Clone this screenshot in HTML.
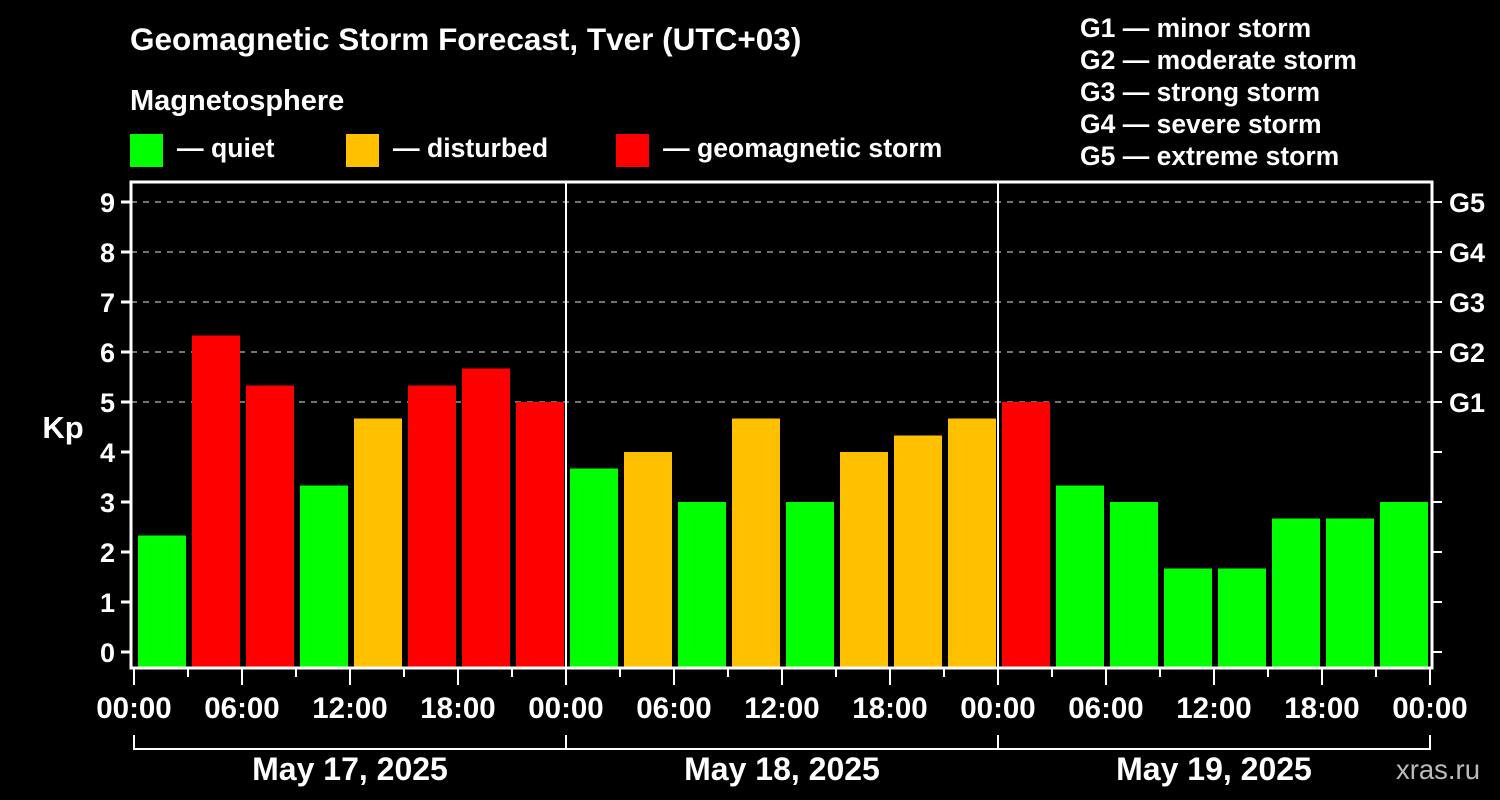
<!DOCTYPE html>
<html><head><meta charset="utf-8"><style>
body{margin:0;background:#000;}
svg{display:block;font-family:"Liberation Sans",Arial,sans-serif;font-weight:bold;}
</style></head><body>
<svg id="c" width="1500" height="800">
<rect width="1500" height="800" fill="#000"/>
<text x="130" y="50" fill="#fff" font-size="31.5">Geomagnetic Storm Forecast, Tver (UTC+03)</text>
<text x="130" y="110" fill="#fff" font-size="29">Magnetosphere</text>
<g><rect x="130" y="134" width="33" height="33" fill="#00ff00"/><text x="177" y="157" fill="#fff" font-size="26.6">— quiet</text></g>
<g><rect x="346" y="134" width="33" height="33" fill="#ffc000"/><text x="393" y="157" fill="#fff" font-size="26.6">— disturbed</text></g>
<g><rect x="616" y="134" width="33" height="33" fill="#ff0000"/><text x="663" y="157" fill="#fff" font-size="26.6">— geomagnetic storm</text></g>
<g fill="#fff" font-size="26.5">
<text x="1080" y="37">G1 — minor storm</text>
<text x="1080" y="69">G2 — moderate storm</text>
<text x="1080" y="101">G3 — strong storm</text>
<text x="1080" y="133">G4 — severe storm</text>
<text x="1080" y="165">G5 — extreme storm</text>
</g>
<text x="63" y="438" fill="#fff" font-size="31" text-anchor="middle">Kp</text>
<text x="1480" y="779" fill="#bbb" font-size="27.5" text-anchor="end" font-weight="normal">xras.ru</text>
<g id="plot"></g>
</svg>
<script>
const kpValues=[2.33,6.33,5.33,3.33,4.67,5.33,5.67,5.00, 3.67,4.00,3.00,4.67,3.00,4.00,4.33,4.67, 5.00,3.33,3.00,1.67,1.67,2.67,2.67,3.00];
const dayLabels=["May 17, 2025","May 18, 2025","May 19, 2025"];
const hourLabels=["00:00","06:00","12:00","18:00"];
const yTicks=[0,1,2,3,4,5,6,7,8,9];
const gLabels=["G1","G2","G3","G4","G5"];
const NS="http://www.w3.org/2000/svg";
const g=document.getElementById('plot');
const X0=134, DAYW=432, SLOT=DAYW/8, Y0=652, UNIT=50, TOP=182, BOT=668, L=131, R=1432;
const xs=i=>X0+i*SLOT; const ys=v=>Y0-v*UNIT;
function mk(t,a){const e=document.createElementNS(NS,t);for(const k in a)e.setAttribute(k,a[k]);g.appendChild(e);return e;}
for(let v=5;v<=9;v++){const e=mk('line',{x1:L,x2:R,y1:ys(v),y2:ys(v),stroke:'#999','stroke-width':1.5,'stroke-dasharray':'6,6'});

}
kpValues.forEach((v,i)=>{const col=v>=5?'#ff0000':(v>=4?'#ffc000':'#00ff00');
const e=mk('rect',{x:xs(i)+4,y:ys(v),width:SLOT-6,height:BOT-ys(v),fill:col});

});
for(let d=1;d<dayLabels.length;d++){const e=mk('line',{x1:X0+d*DAYW,x2:X0+d*DAYW,y1:TOP,y2:BOT,stroke:'#fff','stroke-width':2});

}
const fr=mk('rect',{x:L,y:TOP,width:R-L,height:BOT-TOP,fill:'none',stroke:'#fff','stroke-width':3});


yTicks.forEach(v=>{mk('line',{x1:121,x2:L,y1:ys(v),y2:ys(v),stroke:'#fff','stroke-width':3});
mk('line',{x1:R,x2:1442,y1:ys(v),y2:ys(v),stroke:'#fff','stroke-width':2});
const t=mk('text',{x:115,y:ys(v)+10,fill:'#fff','font-size':27,'text-anchor':'end'});t.textContent=v;

});
gLabels.forEach((s,i)=>{const t=mk('text',{x:1449,y:ys(5+i)+10,fill:'#fff','font-size':27});t.textContent=s;

});
for(let i=0;i<=kpValues.length;i++){const major=i%2==0;
mk('line',{x1:xs(i),x2:xs(i),y1:BOT,y2:BOT+(major?17:9),stroke:'#fff','stroke-width':2});
if(major){const t=mk('text',{x:xs(i),y:718,fill:'#fff','font-size':29.5,'text-anchor':'middle'});t.textContent=hourLabels[(i/2)%4];

}}
mk('line',{x1:X0,x2:X0+3*DAYW,y1:749,y2:749,stroke:'#fff','stroke-width':2});
for(let d=0;d<=dayLabels.length;d++)mk('line',{x1:X0+d*DAYW,x2:X0+d*DAYW,y1:735,y2:750,stroke:'#fff','stroke-width':2});
dayLabels.forEach((s,d)=>{const t=mk('text',{x:X0+d*DAYW+DAYW/2,y:780,fill:'#fff','font-size':32,'text-anchor':'middle'});t.textContent=s;

});
</script>
</body></html>
